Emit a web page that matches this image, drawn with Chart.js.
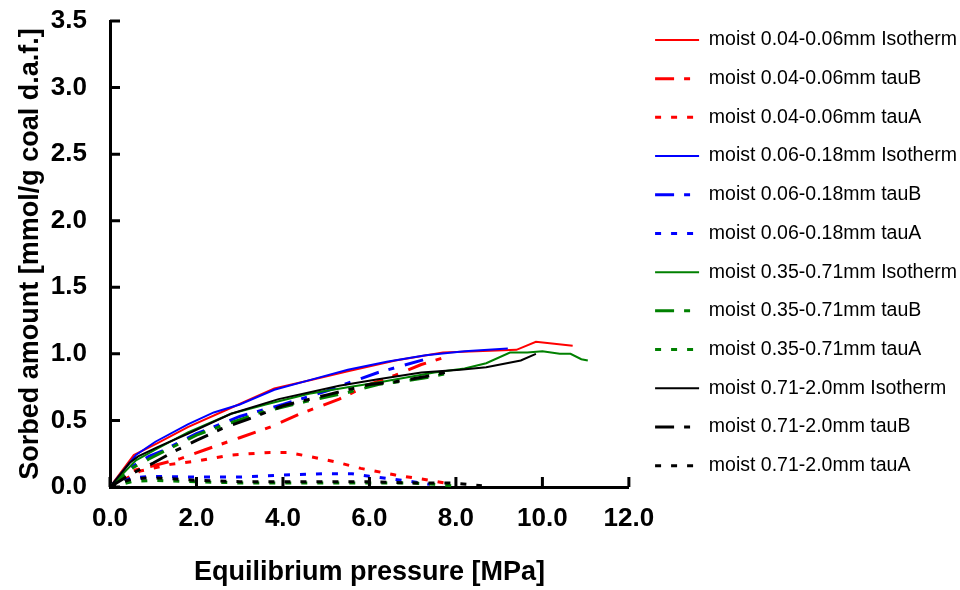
<!DOCTYPE html>
<html>
<head>
<meta charset="utf-8">
<title>Sorption isotherms</title>
<script src="https://cdn.jsdelivr.net/npm/chart.js@4/dist/chart.umd.min.js"></script>
<style>
    body { margin: 0; background: #ffffff; }
</style>
</head>
<body>
<canvas id="sorptionChart" width="960" height="590"></canvas>
<script>

// Measured points [pressure MPa, sorbed amount mmol/g], one list per curve
const redIsotherm = [[0, 0], [0.55, 0.24], [1.1, 0.33], [1.8, 0.45], [2.7, 0.58], [3.8, 0.74], [4.6, 0.8], [5.5, 0.87], [6.6, 0.95], [7.7, 1.01], [9.4, 1.03], [9.85, 1.09], [10.7, 1.06]];
const redTauB = [[0, 0], [0.5, 0.12], [1.0, 0.16], [1.6, 0.21], [2.2, 0.28], [3.0, 0.37], [3.7, 0.45], [4.4, 0.55], [5.3, 0.66], [6.0, 0.77], [6.6, 0.84], [7.2, 0.92], [7.7, 0.97]];
const redTauA = [[0, 0], [0.7, 0.12], [1.4, 0.17], [2.1, 0.2], [2.8, 0.24], [3.7, 0.26], [4.1, 0.26], [4.6, 0.23], [5.2, 0.19], [5.8, 0.14], [6.6, 0.09], [7.4, 0.05], [7.9, 0.02]];

const blueIsotherm = [[0, 0], [0.6, 0.24], [1.05, 0.34], [1.8, 0.47], [2.4, 0.56], [3.0, 0.62], [3.8, 0.73], [4.7, 0.81], [5.5, 0.88], [6.4, 0.94], [7.3, 0.99], [8.2, 1.02], [9.2, 1.04]];
const blueTauB = [[0, 0], [0.5, 0.15], [0.9, 0.23], [1.2, 0.27], [2.0, 0.4], [3.0, 0.53], [4.0, 0.62], [5.0, 0.72], [5.5, 0.78], [6.2, 0.86], [7.3, 0.96]];
const blueTauA = [[0, 0], [0.5, 0.07], [1.0, 0.08], [2.0, 0.075], [3.0, 0.075], [4.0, 0.09], [5.0, 0.1], [5.6, 0.1], [6.0, 0.08], [6.5, 0.06], [7.0, 0.04], [7.4, 0.02]];

const greenIsotherm = [[0, 0], [0.6, 0.2], [1.1, 0.29], [1.8, 0.41], [2.8, 0.55], [3.6, 0.62], [4.6, 0.7], [5.5, 0.75], [6.3, 0.79], [7.5, 0.86], [8.2, 0.89], [8.7, 0.93], [9.25, 1.01], [9.65, 1.01], [10.0, 1.02], [10.4, 1.0], [10.65, 1.0], [10.9, 0.96], [11.05, 0.95]];
const greenTauB = [[0, 0], [0.5, 0.14], [0.9, 0.21], [1.2, 0.26], [2.0, 0.39], [2.5, 0.45], [3.5, 0.56], [4.5, 0.64], [5.5, 0.71], [6.2, 0.77], [6.9, 0.8], [7.3, 0.82], [7.9, 0.86]];
const greenTauA = [[0, 0], [0.5, 0.04], [1.0, 0.05], [2.0, 0.04], [3.0, 0.03], [4.0, 0.03], [5.0, 0.03], [6.0, 0.03], [7.0, 0.03], [7.5, 0.02], [7.9, 0.01]];

const blackIsotherm = [[0, 0], [0.45, 0.18], [0.65, 0.23], [1.1, 0.3], [1.8, 0.4], [2.8, 0.55], [3.9, 0.66], [5.3, 0.76], [6.2, 0.81], [7.2, 0.86], [8.1, 0.88], [8.7, 0.9], [9.5, 0.95], [9.85, 1.0]];
const blackTauB = [[0, 0], [0.5, 0.1], [1.0, 0.18], [1.5, 0.27], [2.0, 0.35], [2.6, 0.44], [3.2, 0.51], [4.0, 0.61], [5.0, 0.69], [6.0, 0.77], [6.6, 0.79], [7.3, 0.83], [7.9, 0.87]];
const blackTauA = [[0, 0], [0.5, 0.06], [1.0, 0.07], [2.0, 0.05], [3.0, 0.04], [4.0, 0.04], [5.0, 0.04], [6.0, 0.04], [7.0, 0.03], [7.9, 0.03], [8.6, 0.01]];

// Legend names, in the order of the legend
const seriesNames = [
    'moist 0.04-0.06mm Isotherm', 'moist 0.04-0.06mm tauB', 'moist 0.04-0.06mm tauA',
    'moist 0.06-0.18mm Isotherm', 'moist 0.06-0.18mm tauB', 'moist 0.06-0.18mm tauA',
    'moist 0.35-0.71mm Isotherm', 'moist 0.35-0.71mm tauB', 'moist 0.35-0.71mm tauA',
    'moist 0.71-2.0mm Isotherm', 'moist 0.71-2.0mm tauB', 'moist 0.71-2.0mm tauA'
];
const seriesPoints = [
    redIsotherm, redTauB, redTauA,
    blueIsotherm, blueTauB, blueTauA,
    greenIsotherm, greenTauB, greenTauA,
    blackIsotherm, blackTauB, blackTauA
];

// Axis ranges
const pressureRange = [0, 12];
const amountRange = [0, 3.5];

// Styles: one colour per grain size, one line type per curve kind
const sizeColors = ['#ff0000', '#0000ff', '#008000', '#000000'];
const kindDashes = [[], [19, 10, 6, 11], [6, 10]];
const kindWidths = [2, 3, 3];

const FONT = 'Arial, "Liberation Sans", sans-serif';

// Short tick marks pointing into the plot, like the original
const inwardTicks = {
    id: 'inwardTicks',
    afterDraw(chart) {
        const { ctx, chartArea, scales } = chart;
        ctx.save();
        ctx.strokeStyle = '#000';
        ctx.lineWidth = 3;
        ctx.beginPath();
        scales.x.ticks.forEach(t => {
            const px = scales.x.getPixelForValue(t.value);
            ctx.moveTo(px, chartArea.bottom);
            ctx.lineTo(px, chartArea.bottom - 10);
        });
        scales.y.ticks.forEach(t => {
            const py = scales.y.getPixelForValue(t.value);
            ctx.moveTo(chartArea.left, py);
            ctx.lineTo(chartArea.left + 10, py);
        });
        ctx.stroke();
        ctx.restore();
    }
};

// Move the legend a little to the right of the plot
const legendNudge = {
    id: 'legendNudge',
    afterLayout(chart) {
        chart.legend.left += 7;
        chart.legend.right += 7;
    }
};

// Build one dataset per curve
const datasets = seriesPoints.map((points, i) => {
    const color = sizeColors[Math.floor(i / 3)];
    const kind = i % 3;
    return {
        label: seriesNames[i],
        data: points.map(p => ({ x: p[0], y: p[1] })),
        borderColor: color,
        backgroundColor: color,
        borderWidth: kindWidths[kind],
        borderDash: kindDashes[kind],
        pointRadius: 0,
        tension: 0,
        fill: false,
        order: seriesPoints.length - i // later series drawn on top
    };
});

var ctx = document.getElementById('sorptionChart').getContext('2d');
var sorptionChart = new Chart(ctx, {
    type: 'line',
    data: { datasets: datasets },
    options: {
        responsive: false,
        animation: false,
        layout: { padding: { top: 11, right: 0, bottom: 0, left: 0 } },
        plugins: {
            legend: {
                position: 'right',
                align: 'start',
                maxWidth: 335,
                labels: {
                    usePointStyle: true,
                    pointStyle: 'line',
                    pointStyleWidth: 44,
                    padding: 19.2,
                    color: '#000',
                    font: { family: FONT, size: 19.5 },
                    sort: (a, b) => a.datasetIndex - b.datasetIndex,
                    // take the line sample style from the dataset line, not its points
                    generateLabels(chart) {
                        const items = Chart.defaults.plugins.legend.labels.generateLabels(chart);
                        items.forEach(item => {
                            const ds = chart.data.datasets[item.datasetIndex];
                            item.lineDash = ds.borderDash;
                            item.lineWidth = ds.borderWidth;
                            item.strokeStyle = ds.borderColor;
                        });
                        return items;
                    }
                }
            },
            tooltip: { enabled: false }
        },
        scales: {
            x: {
                type: 'linear',
                min: pressureRange[0],
                max: pressureRange[1],
                grid: { display: false, drawTicks: false },
                border: { display: true, color: '#000', width: 3 },
                ticks: {
                    stepSize: 2,
                    padding: 16,
                    color: '#000',
                    font: { family: FONT, size: 26, weight: 'bold' },
                    callback: v => v.toFixed(1)
                },
                title: {
                    display: true,
                    text: 'Equilibrium pressure [MPa]',
                    color: '#000',
                    font: { family: FONT, size: 27, weight: 'bold' },
                    padding: { top: 23, bottom: 1.4 }
                },
                afterFit(scale) {
                    scale.height = 103;
                }
            },
            y: {
                type: 'linear',
                min: amountRange[0],
                max: amountRange[1],
                grid: { display: false, drawTicks: false },
                border: { display: true, color: '#000', width: 3 },
                ticks: {
                    stepSize: 0.5,
                    padding: 23,
                    color: '#000',
                    font: { family: FONT, size: 26, weight: 'bold' },
                    callback: v => v.toFixed(1)
                },
                title: {
                    display: true,
                    text: 'Sorbed amount [mmol/g coal d.a.f.]',
                    color: '#000',
                    font: { family: FONT, size: 27, weight: 'bold' },
                    padding: { top: 14.4, bottom: 5.4 }
                },
                // keep the plot edges where they sit in the original
                afterFit(scale) {
                    scale.paddingTop = 21;
                    scale.width = 110;
                }
            }
        }
    },
    plugins: [inwardTicks, legendNudge]
});
</script>
</body>
</html>
